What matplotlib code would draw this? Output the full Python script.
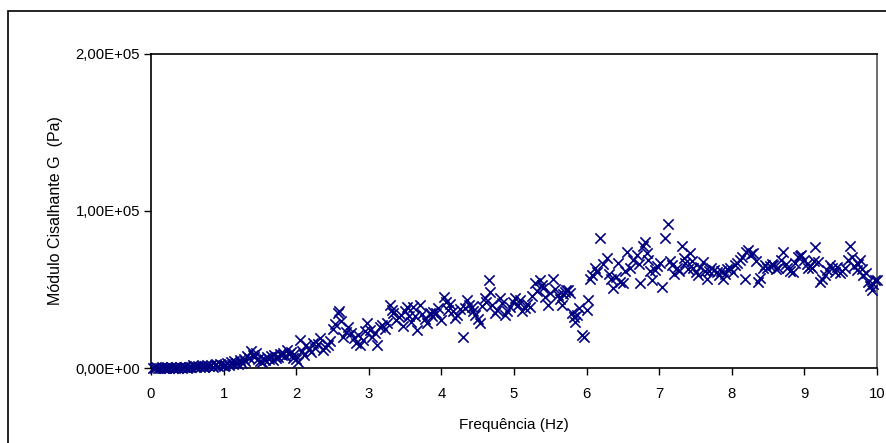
import matplotlib
matplotlib.use("Agg")
import matplotlib.pyplot as plt
from matplotlib.ticker import FuncFormatter, FixedLocator
from matplotlib.patches import Rectangle

plt.rcParams['font.family'] = ['Liberation Sans', 'DejaVu Sans']

# Frequency (Hz) and shear modulus G (kPa)
freq_low = [0.025, 0.05, 0.075, 0.1, 0.125, 0.15, 0.175, 0.2, 0.225, 0.25,
            0.275, 0.3, 0.325, 0.35, 0.375, 0.4, 0.425, 0.45, 0.475, 0.5,
            0.525, 0.55, 0.575, 0.6, 0.625, 0.65, 0.675, 0.7, 0.725, 0.75,
            0.775, 0.8, 0.825, 0.85, 0.875, 0.9, 0.925, 0.95, 0.975, 1.0,
            1.025, 1.05, 1.075, 1.1, 1.125, 1.15, 1.175, 1.2, 1.225, 1.25,
            1.275, 1.3, 1.325, 1.35, 1.375, 1.4, 1.425, 1.45, 1.475, 1.5,
            1.525, 1.55, 1.575, 1.6, 1.625, 1.65, 1.675, 1.7, 1.725, 1.75,
            1.775, 1.8, 1.825, 1.85, 1.875, 1.9, 1.925, 1.95, 1.975, 2.0]
g_low = [0.3, 0.1, 0.4, 0.2, 0.0, 0.5, 0.3, 0.1, 0.6, 0.2,
         0.4, 0.0, 0.3, 0.5, 0.2, 0.6, 0.1, 0.4, 0.7, 0.3,
         0.8, 0.5, 2.1, 1.0, 0.6, 1.2, 0.9, 1.5, 0.7, 1.3,
         1.8, 1.1, 2.0, 0.9, 1.6, 2.4, 1.3, 2.8, 1.9, 1.5,
         2.2, 3.0, 1.8, 3.6, 2.6, 4.2, 3.1, 2.4, 4.8, 3.5,
         5.6, 4.4, 7.5, 6.2, 10.8, 8.4, 6.8, 9.6, 5.5, 4.6,
         4.0, 5.8, 4.8, 7.0, 6.0, 7.8, 5.2, 8.4, 6.6, 7.2,
         9.0, 8.0, 9.8, 7.4, 11.6, 8.8, 10.4, 6.4, 9.2, 5.6]

freq_high = [2.03, 2.05, 2.08, 2.11, 2.14, 2.17, 2.20, 2.23, 2.26, 2.30,
             2.33, 2.37, 2.40, 2.44, 2.47, 2.51, 2.54, 2.57, 2.59, 2.62,
             2.65, 2.68, 2.72, 2.75, 2.79, 2.82, 2.85, 2.88, 2.92, 2.95,
             2.97, 3.02, 3.05, 3.08, 3.11, 3.15, 3.18, 3.22, 3.25, 3.29,
             3.32, 3.34, 3.38, 3.41, 3.44, 3.47, 3.50, 3.52, 3.56, 3.58,
             3.61, 3.64, 3.66, 3.70, 3.73, 3.77, 3.80, 3.84, 3.87, 3.89,
             3.93, 3.96, 3.99, 4.03, 4.06, 4.09, 4.12, 4.16, 4.19, 4.22,
             4.26, 4.30, 4.33, 4.35, 4.38, 4.42, 4.44, 4.46, 4.50, 4.53,
             4.56, 4.60, 4.62, 4.65, 4.67, 4.70, 4.74, 4.77, 4.81, 4.84,
             4.88, 4.91, 4.95, 4.98, 5.01, 5.05, 5.08, 5.11, 5.15, 5.18,
             5.22, 5.25, 5.29, 5.32, 5.36, 5.38, 5.40, 5.43, 5.47, 5.50,
             5.54, 5.57, 5.61, 5.64, 5.66, 5.68, 5.70, 5.72, 5.74, 5.77,
             5.80, 5.82, 5.84, 5.87, 5.89, 5.94, 5.96, 6.00, 6.02, 6.05,
             6.08, 6.12, 6.15, 6.19, 6.22, 6.28, 6.31, 6.33, 6.36, 6.40,
             6.43, 6.46, 6.50, 6.53, 6.55, 6.60, 6.64, 6.69, 6.72, 6.74,
             6.78, 6.80, 6.83, 6.85, 6.88, 6.90, 6.94, 6.97, 7.01, 7.04,
             7.08, 7.12, 7.15, 7.17, 7.20, 7.24, 7.27, 7.31, 7.34, 7.36,
             7.39, 7.42, 7.45, 7.47, 7.50, 7.53, 7.56, 7.60, 7.63, 7.66,
             7.69, 7.72, 7.75, 7.79, 7.82, 7.85, 7.88, 7.91, 7.94, 7.97,
             8.01, 8.04, 8.07, 8.11, 8.14, 8.18, 8.20, 8.22, 8.26, 8.29,
             8.33, 8.36, 8.39, 8.43, 8.46, 8.48, 8.52, 8.55, 8.57, 8.61,
             8.64, 8.68, 8.71, 8.74, 8.76, 8.80, 8.84, 8.87, 8.91, 8.94,
             8.96, 9.00, 9.03, 9.05, 9.08, 9.10, 9.13, 9.15, 9.19, 9.21,
             9.24, 9.28, 9.31, 9.35, 9.38, 9.42, 9.45, 9.49, 9.52, 9.56,
             9.60, 9.63, 9.65, 9.69, 9.72, 9.74, 9.76, 9.79, 9.81, 9.85,
             9.88, 9.90, 9.93, 9.95, 9.97, 10.00]
g_high = [4.0, 18.0, 11.0, 8.5, 14.6, 12.0, 10.0, 16.0, 13.0, 15.5,
          19.0, 11.5, 13.5, 14.6, 17.0, 25.0, 28.0, 35.0, 36.0, 30.0,
          20.0, 23.0, 26.0, 22.0, 19.0, 16.0, 21.0, 14.6, 18.0, 23.5,
          28.7, 24.0, 20.0, 22.0, 14.6, 26.0, 27.5, 25.0, 28.7, 40.0,
          37.0, 35.0, 30.6, 32.5, 34.0, 27.0, 36.0, 39.0, 33.0, 29.0,
          39.0, 33.0, 24.0, 40.0, 34.5, 31.0, 28.7, 35.0, 33.0, 35.7,
          35.0, 38.0, 30.5, 45.0, 42.0, 37.0, 41.0, 36.0, 32.0, 33.5,
          37.5, 20.0, 38.0, 43.0, 40.0, 39.0, 36.5, 34.0, 31.0, 28.7,
          39.5, 44.6, 42.0, 56.0, 48.5, 40.0, 35.0, 37.0, 44.6, 41.5,
          34.0, 36.5, 39.0, 42.0, 44.6, 40.0, 43.0, 36.0, 38.0, 41.0,
          39.0, 46.0, 54.0, 49.0, 56.0, 53.0, 51.0, 45.0, 40.0, 48.0,
          57.0, 50.5, 46.5, 44.0, 40.0, 47.0, 48.5, 49.5, 50.0, 47.5,
          35.0, 32.5, 29.0, 34.0, 38.0, 21.0, 20.0, 37.0, 43.0, 57.0,
          59.0, 63.7, 61.0, 83.0, 66.0, 70.0, 60.0, 57.0, 51.0, 58.0,
          67.0, 55.0, 54.0, 62.0, 74.0, 64.0, 69.0, 72.0, 66.0, 54.0,
          78.0, 80.0, 73.0, 69.0, 62.0, 56.0, 62.4, 65.0, 67.0, 51.6,
          83.0, 92.0, 68.0, 65.6, 60.0, 64.0, 62.0, 78.0, 70.0, 67.0,
          63.0, 73.0, 68.0, 64.0, 61.0, 59.0, 64.5, 67.5, 62.0, 57.0,
          61.5, 64.0, 62.5, 61.0, 59.5, 62.0, 57.0, 60.0, 63.0, 63.7,
          61.0, 65.5, 67.0, 69.0, 70.7, 57.0, 74.0, 75.0, 72.5, 73.0,
          68.0, 55.0, 57.5, 64.0, 65.5, 63.7, 65.0, 66.5, 65.6, 63.0,
          64.0, 68.5, 74.0, 66.0, 63.7, 62.0, 61.0, 67.0, 70.7, 71.5,
          72.0, 69.0, 66.0, 64.0, 65.0, 63.7, 68.0, 77.0, 67.5, 55.0,
          57.0, 59.0, 62.5, 65.6, 63.5, 61.0, 64.5, 60.5, 62.0, 64.0,
          69.0, 78.0, 70.7, 65.0, 62.4, 66.0, 69.0, 63.0, 59.0, 60.5,
          55.0, 52.0, 50.0, 53.5, 56.0, 56.0]

freq = freq_low + freq_high
g_pa = [v * 1000.0 for v in (g_low + g_high)]

x_ticks = [0, 1, 2, 3, 4, 5, 6, 7, 8, 9, 10]
y_ticks = [0, 100000, 200000]

fig = plt.figure(figsize=(8.87, 4.43), dpi=100)
fig.patch.set_facecolor('white')
ax = fig.add_axes([151/887, 75/443, 726/887, 314/443])

ax.scatter(freq, g_pa, marker='x', s=55, color='#000080', linewidths=1.2,
           clip_on=False, zorder=3)

ax.set_xlim(0, 10)
ax.set_ylim(0, 200000)
ax.xaxis.set_major_locator(FixedLocator(x_ticks))
ax.yaxis.set_major_locator(FixedLocator(y_ticks))
ax.yaxis.set_major_formatter(FuncFormatter(lambda v, p: f"{v:.2E}".replace('.', ',')))
ax.tick_params(axis='both', direction='out', length=5, width=1, labelsize=10.7,
               colors='black', pad=3)
ax.tick_params(axis='x', pad=9)
for s in ax.spines.values():
    s.set_linewidth(1.2)
    s.set_color('black')
ax.spines['right'].set_color('#555555')

ax.set_xlabel('Frequência (Hz)', fontsize=11, labelpad=12)
ax.set_ylabel('Módulo Cisalhante G  (Pa)', fontsize=11.5, labelpad=9)

# outer chart border
fig.patches.append(Rectangle((8/887, -0.05), 1.1, 0.05 + (443-11)/443,
                             transform=fig.transFigure, fill=False,
                             edgecolor='black', linewidth=1.2))

fig.savefig('out.png', dpi=100)
